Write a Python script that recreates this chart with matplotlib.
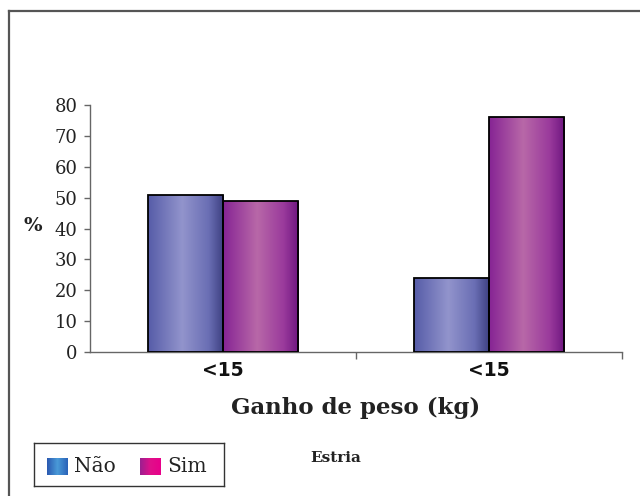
import numpy as np
import matplotlib
matplotlib.use("Agg")
import matplotlib.pyplot as plt
from matplotlib.colors import LinearSegmentedColormap
from matplotlib.patches import Rectangle
from matplotlib.lines import Line2D

# dados: percentual de estria por faixa de ganho de peso
categorias = ['<15', '<15']
nao = [51, 24]
sim = [49, 76]
series = ['Não', 'Sim']

serif = ['DejaVu Serif']
sans = ['DejaVu Sans']
cinza = '#666666'

# gradientes horizontais das barras (escuro - claro - escuro)
cmap_nao = LinearSegmentedColormap.from_list(
    'nao', [(0, '#565ca8'), (0.45, '#9294cc'), (0.8, '#6a6eb4'), (1, '#3c3f80')])
cmap_sim = LinearSegmentedColormap.from_list(
    'sim', [(0, '#862494'), (0.45, '#b868a8'), (0.8, '#9a3a9c'), (1, '#6e1680')])
cmap_leg_nao = LinearSegmentedColormap.from_list('ln', ['#2a58b0', '#4a9ad8', '#2a62b8'])
cmap_leg_sim = LinearSegmentedColormap.from_list('ls', ['#9a2090', '#e0108a', '#e8008a'])

grad = np.linspace(0, 1, 256).reshape(1, -1)


def barra_gradiente(ax, x0, w, h, cmap):
    rect = Rectangle((x0, 0), w, h, facecolor='none', edgecolor='black',
                     linewidth=1.3, zorder=3)
    ax.add_patch(rect)
    img = ax.imshow(grad, cmap=cmap, aspect='auto', extent=(x0, x0 + w, 0, h),
                    zorder=2, interpolation='bilinear')
    img.set_clip_path(rect)


fig = plt.figure(figsize=(6.4, 4.96), dpi=100)
ax = fig.add_axes([0.1406, 0.2903, 0.8313, 0.498])

largura = 0.283
x = np.arange(len(categorias))
for i in x:
    barra_gradiente(ax, i - largura, largura, nao[i], cmap_nao)
    barra_gradiente(ax, i, largura, sim[i], cmap_sim)

ax.set_xlim(-0.5, 1.5)
ax.set_ylim(0, 80)
for s in ['top', 'right']:
    ax.spines[s].set_visible(False)
for s in ['left', 'bottom']:
    ax.spines[s].set_color(cinza)
    ax.spines[s].set_linewidth(1.0)

ax.set_yticks(range(0, 81, 10))
ax.tick_params(axis='y', direction='out', length=4, color=cinza, width=1.0, pad=5)
for t in ax.get_yticklabels():
    t.set_fontfamily(serif)
    t.set_fontsize(13)
    t.set_color('#222222')

# marcas entre categorias no eixo x
ax.set_xticks([0.5, 1.5])
ax.set_xticklabels([])
ax.tick_params(axis='x', direction='out', length=5, color=cinza, width=1.0)
for i, c in zip(x, categorias):
    ax.text(i, -3.0, c, ha='center', va='top', fontsize=13.5, fontweight='bold',
            family=sans, color='#111111')

fig.text(33 / 640, 1 - 226 / 496, '%', ha='center', va='center', fontsize=14,
         fontweight='bold', family=serif, color='#222222')
fig.text(356 / 640, 1 - 408 / 496, 'Ganho de peso (kg)', ha='center', va='center',
         fontsize=16.5, fontweight='bold', family=serif, color='#222222')
fig.text(336 / 640, 1 - 458 / 496, 'Estria', ha='center', va='center',
         fontsize=11, fontweight='bold', family=serif, color='#222222')

# moldura (apenas topo e esquerda)
fig.add_artist(Line2D([9 / 640, 1], [1 - 11 / 496] * 2, color='#555555', lw=1.6))
fig.add_artist(Line2D([9 / 640] * 2, [0, 1 - 11 / 496], color='#555555', lw=1.6))

# legenda desenhada à mão
lax = fig.add_axes([34 / 640, 1 - 486 / 496, 190 / 640, 43 / 496])
lax.set_xticks([])
lax.set_yticks([])
for s in lax.spines.values():
    s.set_color('#333333')
    s.set_linewidth(1.0)
for x0, nome, cm in [(47, series[0], cmap_leg_nao), (140, series[1], cmap_leg_sim)]:
    lax.imshow(grad, cmap=cm, aspect='auto', extent=(x0, x0 + 21, 475, 458))
    lax.text(x0 + 27, 467, nome, ha='left', va='center', fontsize=14.5,
             family=serif, color='#222222')
lax.set_xlim(34, 224)
lax.set_ylim(486, 443)

fig.savefig('out.png', dpi=100)
